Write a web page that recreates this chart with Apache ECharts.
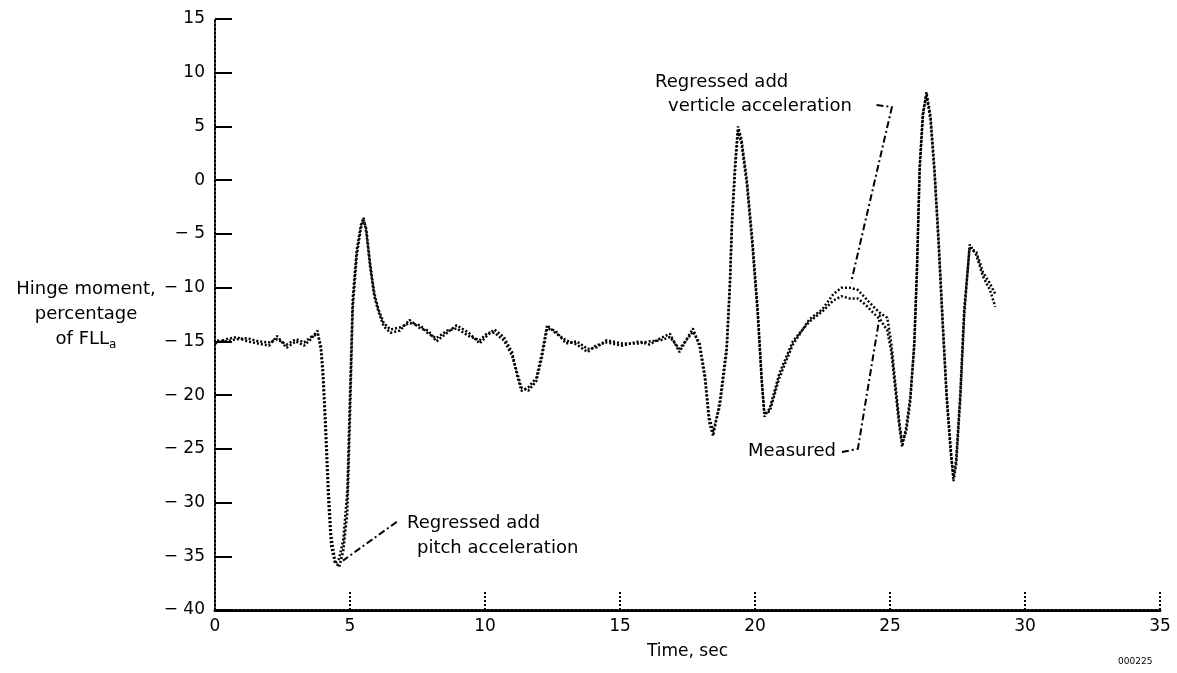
<!DOCTYPE html>
<html>
<head>
<meta charset="utf-8">
<script src="https://cdn.jsdelivr.net/npm/echarts@6/dist/echarts.min.js"></script>
<style>
  html, body { margin: 0; padding: 0; background: #fff; }
  #chart { width: 1177px; height: 673px; }
</style>
</head>
<body>
<div id="chart"></div>
<script>
// time axis, seconds
var timeSec = [0, 0.4, 0.8, 1.2, 1.6, 2.0, 2.3, 2.65, 3.0, 3.3, 3.55, 3.8, 3.92, 4.0, 4.1, 4.2, 4.3, 4.45, 4.6, 4.75,
  4.9, 5.0, 5.1, 5.25, 5.4, 5.5, 5.6, 5.75, 5.9, 6.05, 6.25, 6.5, 6.85, 7.2, 7.6, 7.9, 8.2, 8.6, 8.95, 9.4,
  9.8, 10.1, 10.35, 10.7, 11.0, 11.2, 11.35, 11.6, 11.9, 12.1, 12.3, 12.6, 13.0, 13.4, 13.8, 14.1, 14.5, 15.1, 15.7, 16.1,
  16.5, 16.85, 17.2, 17.7, 17.95, 18.15, 18.3, 18.45, 18.7, 18.95, 19.07, 19.15, 19.27, 19.37, 19.5, 19.7, 19.9, 20.1, 20.25, 20.35,
  20.55, 20.9, 21.4, 22.0, 22.5, 22.9, 23.2, 23.5, 23.8, 24.1, 24.4, 24.65, 24.9, 25.05, 25.2, 25.35, 25.45, 25.6, 25.75, 25.9,
  26.0, 26.1, 26.22, 26.35, 26.5, 26.65, 26.8, 26.95, 27.1, 27.25, 27.35, 27.45, 27.6, 27.75, 27.95, 28.2, 28.45, 28.7, 28.9];

// measured hinge moment, % FLLa
var measured = [-15.2, -14.8, -14.6, -15.0, -15.2, -15.4, -14.5, -15.6, -15.0, -15.4, -14.8, -14.0, -15.8, -18.5, -24.0, -30.0, -34.0, -35.7, -35.2, -33.5,
  -29.0, -20.0, -11.0, -6.5, -4.2, -3.5, -4.8, -8.2, -10.8, -12.2, -13.6, -14.2, -14.0, -13.0, -13.8, -14.0, -15.0, -14.2, -13.5, -14.2,
  -15.2, -14.4, -13.9, -14.6, -16.0, -18.3, -19.6, -19.3, -18.4, -16.2, -13.5, -14.2, -14.9, -15.3, -16.0, -15.4, -15.1, -15.4, -15.0, -15.3,
  -14.7, -14.3, -16.0, -13.8, -15.5, -18.6, -22.5, -23.8, -20.5, -15.5, -9.5, -3.5, 1.8, 5.0, 3.8, 0.0, -5.5, -12.0, -18.5, -22.0,
  -21.2, -18.0, -15.0, -13.2, -12.2, -11.2, -10.8, -11.0, -11.0, -11.6, -12.4, -13.0, -14.0, -16.0, -19.5, -23.0, -24.8, -23.0, -20.2, -15.5,
  -8.5, 1.0, 6.0, 8.2, 6.0, 1.0, -5.5, -13.0, -20.0, -25.0, -28.0, -26.5, -20.5, -12.5, -6.0, -7.0, -9.0, -10.2, -11.8];

// regressed (pitch + vertical acceleration)
var regressed = [-14.9, -15.0, -14.8, -14.7, -15.0, -15.1, -14.8, -15.3, -14.8, -15.1, -14.6, -14.3, -15.4, -17.5, -22.5, -28.5, -33.0, -35.5, -36.0, -34.5,
  -31.0, -22.0, -12.0, -7.0, -4.5, -3.7, -4.5, -7.8, -10.5, -12.0, -13.3, -13.9, -13.7, -13.3, -13.5, -14.3, -14.7, -14.0, -13.8, -14.5,
  -14.9, -14.2, -14.2, -14.9, -16.3, -18.0, -19.3, -19.6, -18.7, -16.6, -13.8, -14.0, -15.2, -15.0, -15.7, -15.6, -14.9, -15.2, -15.2, -15.0,
  -14.9, -14.6, -15.7, -14.1, -15.2, -18.2, -22.0, -23.4, -21.0, -16.0, -10.0, -4.0, 1.2, 4.6, 3.4, -0.4, -6.0, -12.5, -18.8, -21.7,
  -21.5, -18.4, -15.3, -13.0, -12.0, -10.6, -10.0, -10.0, -10.2, -11.0, -11.8, -12.4, -12.8, -15.2, -19.0, -22.6, -24.4, -23.4, -20.6, -15.0,
  -8.0, 1.4, 6.3, 7.9, 5.6, 0.6, -6.0, -13.4, -20.4, -25.4, -27.6, -26.0, -20.0, -12.0, -6.3, -6.7, -8.6, -9.6, -10.6];

// annotation texts and where they sit (time, value)
var noteText = ['Regressed add', 'verticle acceleration', 'Regressed add', 'pitch acceleration', 'Measured'];
var noteAt = [[16.3, 9.1], [16.78, 6.9], [7.11, -31.9], [7.48, -34.25], [23.0, -25.2]];
var noteAlign = ['left', 'left', 'left', 'left', 'right'];

// leader lines from the notes to the curves
var leaderVert = [[24.5, 7.0], [25.07, 6.8], [23.56, -9.5]];
var leaderMeas = [[23.22, -25.3], [23.81, -25.0], [24.63, -12.5]];
var leaderPitch = [[6.73, -31.8], [4.74, -35.4]];

var xTicks = [0, 35, 5];
var yTicks = [-40, 15, 5];

var FONT = '"DejaVu Sans", Verdana, sans-serif';

function pairs(xs, ys) {
  var out = [];
  for (var i = 0; i < xs.length; i++) {
    out.push([xs[i], ys[i]]);
  }
  return out;
}

var dom = document.getElementById('chart');
var myChart = echarts.init(dom, null, { renderer: 'canvas' });

var option = {
  backgroundColor: '#ffffff',
  animation: false,
  grid: {
    left: 215,
    right: 17,
    top: 19,
    bottom: 63
  },
  xAxis: {
    type: 'value',
    min: xTicks[0],
    max: xTicks[1],
    interval: xTicks[2],
    name: 'Time, sec',
    nameLocation: 'middle',
    nameGap: 33,
    nameTextStyle: { color: '#000', fontSize: 17, fontFamily: FONT },
    axisLine: { onZero: false, lineStyle: { color: '#000', width: 3, type: [2, 2] } },
    axisTick: { inside: true, length: 20, lineStyle: { color: '#000', width: 2, type: 'dotted' } },
    axisLabel: { color: '#000', fontSize: 17, fontFamily: FONT, margin: 8 },
    splitLine: { show: false }
  },
  yAxis: {
    type: 'value',
    min: yTicks[0],
    max: yTicks[1],
    interval: yTicks[2],
    axisLine: { show: true, onZero: false, lineStyle: { color: '#000', width: 2, type: 'dotted' } },
    axisTick: { show: true, inside: true, length: 17, lineStyle: { color: '#000', width: 2 } },
    axisLabel: {
      color: '#000', fontSize: 17, fontFamily: FONT, margin: 10,
      formatter: function (v) { return String(v).replace('-', '\u2212 '); }
    },
    splitLine: { show: false }
  },
  series: [{
    name: 'Measured',
    type: 'line',
    data: pairs(timeSec, measured),
    showSymbol: false,
    lineStyle: { color: '#000', width: 2.5, type: [2, 2] },
    z: 3
  }, {
    name: 'Regressed',
    type: 'line',
    data: pairs(timeSec, regressed),
    showSymbol: false,
    lineStyle: { color: '#000', width: 2.5, type: [2, 2], dashOffset: 2 },
    z: 3
  }, {
    type: 'lines',
    coordinateSystem: 'cartesian2d',
    polyline: true,
    silent: true,
    lineStyle: { color: '#000', width: 2, type: [7, 3, 2, 3], opacity: 1 },
    data: [
      { coords: leaderVert },
      { coords: leaderMeas },
      { coords: leaderPitch }
    ],
    z: 4
  }]
};

myChart.setOption(option);

// notes and axis title as graphic text, placed from data coordinates
var graphics = [];
for (var i = 0; i < noteText.length; i++) {
  var p = myChart.convertToPixel({ gridIndex: 0 }, noteAt[i]);
  graphics.push({
    type: 'text',
    x: p[0],
    y: p[1],
    style: {
      text: noteText[i],
      fill: '#000',
      font: '18px ' + FONT,
      textAlign: noteAlign[i],
      textVerticalAlign: 'middle'
    }
  });
}
graphics.push({
  type: 'text',
  x: 86,
  y: 277,
  style: {
    text: 'Hinge moment,\npercentage\nof FLL{sub|a}',
    fill: '#000',
    font: '18px ' + FONT,
    textAlign: 'center',
    lineHeight: 25,
    rich: {
      sub: { fontSize: 12, fontFamily: FONT, padding: [10, 0, 0, 0] }
    }
  }
});
graphics.push({
  type: 'text',
  x: 1118,
  y: 657,
  style: { text: '000225', fill: '#000', font: '9px ' + FONT }
});
myChart.setOption({ graphic: graphics });
</script>
</body>
</html>
